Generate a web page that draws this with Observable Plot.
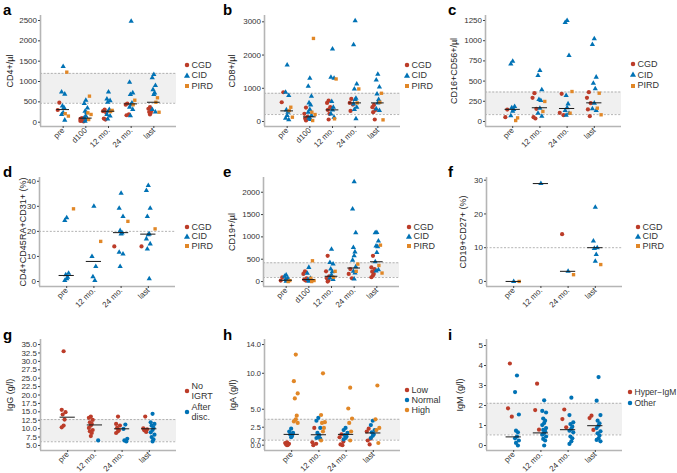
<!DOCTYPE html>
<html><head><meta charset="utf-8">
<script src="https://cdn.jsdelivr.net/npm/d3@7"></script>
<script src="https://cdn.jsdelivr.net/npm/@observablehq/plot@0.6"></script>
<style>
body{margin:0;background:#fff;}
#wrap{position:relative;width:677px;height:473px;font-family:"Liberation Sans",Arial,sans-serif;overflow:hidden;background:#fff;}
.panel{position:absolute;}
.letter{position:absolute;font-weight:bold;font-size:15px;line-height:15px;color:#000;}
.legend{position:absolute;font-size:9px;color:#333;white-space:nowrap;}
</style></head><body><div id="wrap"></div><script>
// ---------- categories ----------
const cats5 = ["pre","d100","12 mo.","24 mo.","last"];
const cats4 = ["pre","12 mo.","24 mo.","last"];

// ---------- a: CD4+/µl ----------
const cd4_CGD  = [[480,300],[100,80,70,60,50,40,30,20],[310,270,230,90,65],[460,430,190,170],[370,330,290,250,230,190]];
const cd4_CID  = [[1370,740,690,400,360,230,190,50],[540,460,350,270,230,150,110,65,25],[740,570,530,490,310,270,190,150,80],[2480,980,720,680,470,430,370,310,160],[1170,1090,900,800,720,680,310,250]];
const cd4_PIRD = [[1230,210,150],[640,230,190,65],[290,260],[540,430],[600,490,245]];
const cd4_median = [310,100,270,450,490];
const cd4_ref = [465,1200];
const cd4_ticks = [0,500,1000,1500,2000,2500];

// ---------- b: CD8+/µl ----------
const cd8_CGD  = [[880,580],[420,230,140,90,60,30],[630,560,430,350,230,60],[680,560,510,320],[500,430,350,280,60]];
const cd8_CID  = [[1700,880,780,350,280,180,100,50],[1300,1060,760,560,500,360,280,180,100,60],[2180,1330,1300,600,430,350,230,130],[3030,2310,1130,980,700,660,530,430,360,80],[1420,1250,1040,830,660,560,380,330]];
const cd8_PIRD = [[430,330,130],[2500,280,210,30],[1280,80],[980,560],[850,580,50]];
const cd8_median = [320,140,350,560,560];
const cd8_ref = [210,850];
const cd8_ticks = [0,1000,2000,3000];

// ---------- c: CD16+CD56+/µl ----------
const nk_CGD  = [[148,54],[350,293,157,54,37],[342,107,78],[363,293,227,149,66]];
const nk_CID  = [[745,712,186,169,149,128,70],[631,569,392,272,260,165,103,66],[1250,1225,817,322,218,169,136,103,78],[1023,953,549,474,404,227,157,136]];
const nk_PIRD = [[45,12],[248,124],[371,103],[350,165,83]];
const nk_median = [150,170,161,231];
const nk_ref = [85,365];
const nk_ticks = [0,250,500,750,1000,1250];

// ---------- d: CD4+CD45RA+CD31+ (%) ----------
const rte_CGD  = [[],[],[14],[14]];
const rte_CID  = [[25.4,24.3,3.3,2.7,1.7,1.1,0.4],[30,10,6,1.9,0.4],[35.2,29.2,25.9,20.3,19.4,19,11.7,11,6],[38.3,36.3,29.2,25.9,19,18.7,17,15,13,1.1]];
const rte_PIRD = [[29],[16],[24],[21]];
const rte_median = [2.4,8,19.5,18.9];
const rte_ref = [20];
const rte_ticks = [0,10,20,30,40];

// ---------- e: CD19+/µl ----------
const cd19_CGD  = [[96,22],[229,170,74,44,22],[576,229,118,74,22,0],[280,170,74],[576,317,280,221,170,133,96]];
const cd19_CID  = [[148,118,74,44,22,7],[317,185,74,44,22,7],[723,428,391,280,221,148,81,44],[2236,1624,1092,760,664,576,480,332,229,192,59],[1100,1092,908,797,782,650,443,266,236]];
const cd19_PIRD = [[22,0],[465,74,22,0],[229,96],[391,229],[815,360,190]];
const cd19_median = [30,44,118,303,443];
const cd19_ref = [90,420];
const cd19_ticks = [0,500,1000,1500,2000];

// ---------- f: CD19+CD27+ (%) ----------
const mem_CGD  = [[],[],[14],[]];
const mem_CID  = [[0],[29],[3],[22,12,10,9.8,8,6]];
const mem_PIRD = [[0],[],[2],[5]];
const mem_median = [0,29,3,10];
const mem_ref = [10];
const mem_ticks = [0,10,20,30];

// ---------- g: IgG (g/l) ----------
const igg_NoIGRT = [[33.0,15.6,14.9,14.2,12.7,10.9,10.4],[13.6,13.2,12.6,11.9,11.4,10.9,10.2,9.6,9.2,8.7,7.8],[13.6,11.4,10.9,10.2,9.6,9.2,8.7],[13.6,10.1,9.8,9.5,9.0]];
const igg_After  = [[],[6.5],[11.2,9.9,7.0,6.5,6.2],[14.4,11.9,11.4,10.9,10.2,9.6,8.9,8.2,7.5,6.8,6.2]];
const igg_median = [13.4,11.1,9.95,9.95];
const igg_ref = [6.1,12.7];
const igg_ticks = [5,7.5,10,12.5,15,17.5,20,22.5,25,27.5,30,32.5,35];

// ---------- h: IgA (g/l) ----------
const iga_Low    = [[0.4,0.3,0.2,0.1,0.05,0],[2.4,0.4,0.2,0],[1.5,1.1,0.5,0.1,0],[2.3,1.9,0.9,0.65,0.1]];
const iga_Normal = [[2.3,1.9,1.7,1.5,1.3,1.1],[3.8,3.4,2.4,1.7,1.4,1.2,1.0,0.9],[2.4,2.1,1.7,1.4,1.2,1.0,0.8],[3.4,2.8,2.1,1.8,1.5,1.3,1.0]];
const iga_High   = [[12.6,8.9,7.2,6.5,4.1,3.6,3.3,3.1],[10.0,4.2,3.2,3.1,2.4,1.9,0.65],[8.0,5.1,3.7,3.1,1.9,0.65],[8.3,3.6,2.4,2.1,0.3]];
const iga_median = [1.5,1.45,1.5,1.7];
const iga_ref = [0.7,3.6];
const iga_ticks = [0,0.7,2.5,5,10,14];

// ---------- i: IgM (g/l) ----------
const igm_Hyper = [[4.1,1.86,1.44],[3.09,1.77,0.79],[1.8,1.32,0.91],[1.49,1.37,0.78]];
const igm_Other = [[3.5,2.67,1.55,0.74,0.66,0.45,0.36,0.25,0.13,0.0],[2.26,1.73,1.65,1.35,1.24,1.12,1.02,0.87,0.78,0.71,0.63,0.54,0.45,0.33,0.25,0.0],[2.39,1.52,1.16,1.07,0.94,0.83,0.74,0.66,0.45,0.36,0.21,0.08],[3.42,2.24,1.52,1.24,1.11,0.99,0.87,0.71,0.61,0.5,0.36,0.28,0.21]];
const igm_median = [0.43,0.63,0.79,0.99];
const igm_ref = [0.53,2.11];
const igm_ticks = [0,1,2,3,4,5];

// ---------- colours / legends ----------
const RED = "#BC3C29", BLUE = "#0072B5", ORANGE = "#E18727";
const diseaseLegend = ["CGD","CID","PIRD"];

// ---------- panel configs (layout only) ----------
const FONT = "Liberation Sans, Arial, sans-serif";
const intFmt = d3.format("d"), dec1 = d3.format(".1f");
const panels = [
  {letter:"a", left:0,   top:0,   h:155, ml:40, mr:4, mt:15, mb:29, cats:cats5, ydom:[-106,2623], ticks:cd4_ticks, fmt:intFmt, title:"CD4+/µl", tdx:-30,
   groups:[{v:cd4_CGD,c:RED,s:"circle",o:-0.17},{v:cd4_CID,c:BLUE,s:"triangle",o:0},{v:cd4_PIRD,c:ORANGE,s:"square",o:0.16}], med:cd4_median, ref:cd4_ref,
   legend:{x:187,y:65,dy:10.5,items:diseaseLegend}},
  {letter:"b", left:220, top:0,   h:155, ml:44, mr:4, mt:15, mb:29, cats:cats5, ydom:[-150,3190], ticks:cd8_ticks, fmt:intFmt, title:"CD8+/µl", tdx:-32,
   groups:[{v:cd8_CGD,c:RED,s:"circle",o:-0.17},{v:cd8_CID,c:BLUE,s:"triangle",o:0},{v:cd8_PIRD,c:ORANGE,s:"square",o:0.16}], med:cd8_median, ref:cd8_ref,
   legend:{x:407,y:65,dy:10.5,items:diseaseLegend}},
  {letter:"c", left:445, top:0,   h:155, ml:40, mr:4, mt:15, mb:29, cats:cats4, ydom:[-62,1312], ticks:nk_ticks, fmt:intFmt, title:"CD16+CD56+/µl", tdx:-31,
   groups:[{v:nk_CGD,c:RED,s:"circle",o:-0.2},{v:nk_CID,c:BLUE,s:"triangle",o:0},{v:nk_PIRD,c:ORANGE,s:"square",o:0.18}], med:nk_median, ref:nk_ref,
   legend:{x:633,y:64,dy:10.8,items:diseaseLegend}},
  {letter:"d", left:0,   top:155, h:155, ml:39, mr:4, mt:22, mb:24, cats:cats4, ydom:[-2,41.5], ticks:rte_ticks, fmt:intFmt, title:"CD4+CD45RA+CD31+ (%)", tdx:-16,
   groups:[{v:rte_CGD,c:RED,s:"circle",o:-0.25},{v:rte_CID,c:BLUE,s:"triangle",o:0},{v:rte_PIRD,c:ORANGE,s:"square",o:0.25}], med:rte_median, ref:rte_ref,
   legend:{x:187,y:227,dy:9.7,items:diseaseLegend}},
  {letter:"e", left:220, top:155, h:155, ml:43, mr:4, mt:22, mb:24, cats:cats5, ydom:[-111,2330], ticks:cd19_ticks, fmt:intFmt, title:"CD19+/µl", tdx:-31,
   groups:[{v:cd19_CGD,c:RED,s:"circle",o:-0.17},{v:cd19_CID,c:BLUE,s:"triangle",o:0},{v:cd19_PIRD,c:ORANGE,s:"square",o:0.16}], med:cd19_median, ref:cd19_ref,
   legend:{x:409,y:227,dy:9.7,items:diseaseLegend}},
  {letter:"f", left:445, top:155, h:155, ml:41, mr:4, mt:22, mb:24, cats:cats4, ydom:[-1.5,30.8], ticks:mem_ticks, fmt:intFmt, title:"CD19+CD27+ (%)", tdx:-23,
   groups:[{v:mem_CGD,c:RED,s:"circle",o:-0.22},{v:mem_CID,c:BLUE,s:"triangle",o:0},{v:mem_PIRD,c:ORANGE,s:"square",o:0.2}], med:mem_median, ref:mem_ref,
   legend:{x:638,y:227,dy:9.7,items:diseaseLegend}},
  {letter:"g", left:0,   top:310, h:163, ml:40, mr:4, mt:29, mb:23, cats:cats4, ydom:[3.5,36.5], ticks:igg_ticks, fmt:dec1, title:"IgG (g/l)", tdx:-30,
   groups:[{v:igg_NoIGRT,c:RED,s:"circle",o:-0.15},{v:igg_After,c:BLUE,s:"circle",o:0.12}], med:igg_median, ref:igg_ref,
   legend:{x:187,y:391,dy:21,items:["No\nIGRT","After\ndisc."]}},
  {letter:"h", left:220, top:310, h:163, ml:44, mr:4, mt:29, mb:23, cats:cats4, ydom:[-0.74,14.7], ticks:iga_ticks, fmt:dec1, title:"IgA (g/l)", tdx:-31, tickFs:7.5,
   groups:[{v:iga_Low,c:RED,s:"circle",o:-0.17},{v:iga_Normal,c:BLUE,s:"circle",o:-0.02},{v:iga_High,c:ORANGE,s:"circle",o:0.15}], med:iga_median, ref:iga_ref,
   legend:{x:407,y:390,dy:10,items:["Low","Normal","High"]}},
  {letter:"i", left:445, top:310, h:163, ml:41, mr:4, mt:29, mb:23, cats:cats4, ydom:[-0.25,5.3], ticks:igm_ticks, fmt:intFmt, title:"IgM (g/l)", tdx:-26,
   groups:[{v:igm_Hyper,c:RED,s:"circle",o:-0.14},{v:igm_Other,c:BLUE,s:"circle",o:0.12}], med:igm_median, ref:igm_ref,
   legend:{x:630,y:392,dy:11,items:["Hyper−IgM","Other"],fs:8.5}}
];

const jit = [0,-0.07,0.07,-0.035,0.035];
const rad = {circle: 2.1, triangle: 1.95, square: 1.9};
const wrap = document.getElementById("wrap");

for (const p of panels) {
  const n = p.cats.length;
  const xdom = [-1, n];
  const W = p.ml + 136 + p.mr;
  const marks = [];
  if (p.ref.length === 2) {
    marks.push(Plot.rect([p.ref], {x1: xdom[0], x2: xdom[1], y1: d => d[0], y2: d => d[1], fill: "#f0f0f0"}));
  }
  marks.push(Plot.ruleY(p.ref, {stroke: "#a0a0a0", strokeWidth: 0.8, strokeDasharray: "2,1.6"}));
  marks.push(Plot.ruleX([xdom[0]], {stroke: "#b5b5b5", strokeWidth: 1.6}));
  marks.push(Plot.ruleY([p.ydom[0]], {stroke: "#b5b5b5", strokeWidth: 1.6}));
  marks.push(Plot.axisY({ticks: p.ticks, tickFormat: p.fmt, tickSize: 2, tickPadding: 1.5, label: null, fontSize: p.tickFs || 8, stroke: "#444", color: "#333"}));
  marks.push(Plot.axisX({ticks: d3.range(n), tickFormat: i => p.cats[i], tickSize: 2, tickPadding: 0.5, tickRotate: -45, label: null, fontSize: 8, stroke: "#444", color: "#333"}));
  marks.push(Plot.text([p.title], {frameAnchor: "left", textAnchor: "middle", lineAnchor: "middle", rotate: -90, dx: p.tdx, fontSize: 9, fill: "#222", text: d => d}));
  for (const g of p.groups) {
    const pts = [];
    g.v.forEach((arr, ci) => arr.forEach((v, k) => pts.push({x: ci + g.o + jit[k % jit.length], y: v})));
    marks.push(Plot.dot(pts, {x: "x", y: "y", fill: g.c, symbol: g.s, r: rad[g.s]}));
  }
  marks.push(Plot.ruleY(d3.range(n), {y: i => p.med[i], x1: i => i - 0.28, x2: i => i + 0.28, stroke: "#1a1a1a", strokeWidth: 1}));

  const svg = Plot.plot({
    width: W, height: p.h,
    marginLeft: p.ml, marginRight: p.mr, marginTop: p.mt, marginBottom: p.mb,
    style: {fontFamily: FONT, background: "transparent", overflow: "visible"},
    x: {domain: xdom, axis: null},
    y: {domain: p.ydom, axis: null},
    marks
  });
  const div = document.createElement("div");
  div.className = "panel";
  div.style.left = p.left + "px"; div.style.top = p.top + "px"; div.style.width = W + "px";
  div.appendChild(svg);
  wrap.appendChild(div);

  // panel letter
  const L = document.createElement("div");
  L.className = "letter"; L.textContent = p.letter;
  L.style.left = (p.left + 3) + "px";
  L.style.top = (p.top === 0 ? 2 : p.top === 155 ? 164 : 327) + "px";
  wrap.appendChild(L);

  // legend
  const lg = p.legend;
  p.groups.forEach((g, i) => {
    const cy = lg.y + i * lg.dy;
    const lines = lg.items[i].split("\n");
    const sym = d3.symbol(g.s === "circle" ? d3.symbolCircle : g.s === "triangle" ? d3.symbolTriangle : d3.symbolSquare, 16)();
    const s = d3.create("svg").attr("width", 8).attr("height", 8).style("position", "absolute").style("left", (lg.x - 4) + "px").style("top", (cy - 4) + "px");
    s.append("path").attr("d", sym).attr("transform", "translate(4,4)").attr("fill", g.c);
    wrap.appendChild(s.node());
    const t = document.createElement("div");
    t.className = "legend";
    if (lg.fs) t.style.fontSize = lg.fs + "px";
    t.style.left = (lg.x + 4.5) + "px";
    t.style.lineHeight = "10.5px";
    t.style.top = (cy - lines.length * 10.5 / 2) + "px";
    t.innerHTML = lines.join("<br>");
    wrap.appendChild(t);
  });
}
</script></body></html>
